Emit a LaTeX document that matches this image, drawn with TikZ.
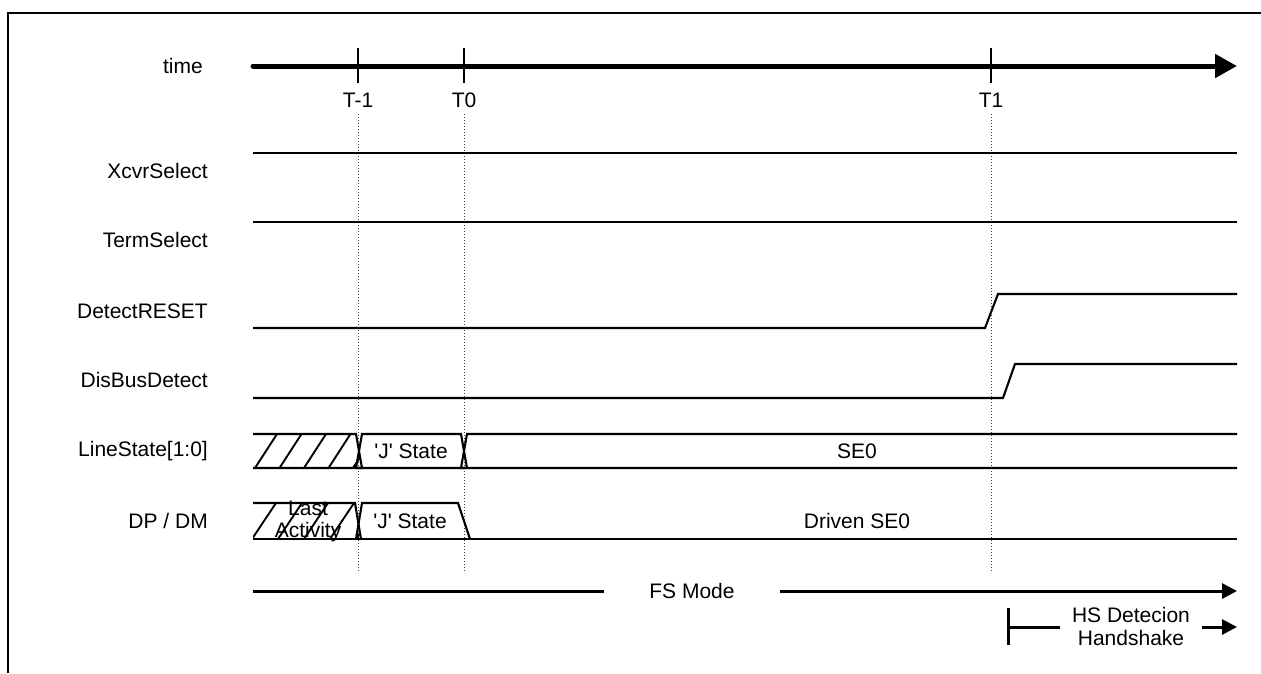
\documentclass[tikz,border=0pt]{standalone}
\usepackage{fontspec}
\setmainfont{Liberation Sans}
\usetikzlibrary{arrows.meta}
\begin{document}
\begin{tikzpicture}[x=1pt,y=-1pt,
  sig/.style={line width=2.1pt, line join=miter},
  lbl/.style={font=\fontsize{21}{24}\selectfont, inner sep=0pt, anchor=east},
  txt/.style={font=\fontsize{21}{23}\selectfont, inner sep=0pt, align=center},
  guide/.style={dash pattern=on 1pt off 2pt, line width=1pt, black!75},
  hatch/.style={line width=1.9pt},
  tick/.style={line width=2pt},
  modearrow/.style={line width=3pt}]
\useasboundingbox (0,0) rectangle (1261,673);
% frame
\draw[line width=1.8pt] (8,673) -- (8,13) -- (1261,13);

% time axis
\node[lbl, anchor=east] (time) at (203,66) {time};
\coordinate (tA) at (253,66);
\coordinate (tB) at (1237,66);
\draw[line width=5pt, line cap=round, -{Triangle[length=22pt,width=23pt]}] (tA) -- (tB);
\foreach \n/\x/\t in {tm1/358/T-1, t0/464/T0, t1/991/T1}{
  \coordinate (\n top) at (\x,48);
  \coordinate (\n bot) at (\x,83);
  \draw[tick] (\n top) -- (\n bot);
  \node[txt] (\n lab) at (\x,100) {\t};
  \coordinate (\n g1) at (\x,114);
  \coordinate (\n g2) at (\x,573);
  \draw[guide] (\n g1) -- (\n g2);
}

% labels
\node[lbl] (xcvr) at (208,171) {XcvrSelect};
\node[lbl] (term) at (208,240) {TermSelect};
\node[lbl] (det)  at (208,311) {DetectRESET};
\node[lbl] (dis)  at (208,380) {DisBusDetect};
\node[lbl] (ls)   at (208,451) {LineState[1:0]};
\node[lbl] (dp)   at (208,521) {DP / DM};

% simple signals
\draw[sig] (253,153) -- (1237,153);
\draw[sig] (253,222) -- (1237,222);
\draw[sig] (253,328) -- (985,328) -- (998,294) -- (1237,294);
\draw[sig] (253,398) -- (1003,398) -- (1015,364) -- (1237,364);

% LineState bus
\begin{scope}
  \clip (253,434) -- (356,434) -- (362,468) -- (253,468) -- cycle;
  \foreach \i in {-1,...,5}{
    \draw[hatch] ({255+24.5*\i},468) -- ({277+24.5*\i},434);
  }
\end{scope}
\draw[sig] (253,434) -- (356,434) -- (362,468) -- (253,468);
\draw[sig] (362,434) -- (461,434) -- (467,468) -- (356,468) -- cycle;
\draw[sig] (1237,434) -- (467,434) -- (461,468) -- (1237,468);
\node[txt] (lsj) at (411,451) {\textquotesingle J\textquotesingle{} State};
\node[txt] (lse0) at (857,451) {SE0};

% DP / DM bus
\begin{scope}
  \clip (253,503) -- (355,503) -- (361,539) -- (253,539) -- cycle;
  \foreach \i in {-1,...,5}{
    \draw[hatch] ({252+26*\i},539) -- ({276+26*\i},503);
  }
\end{scope}
\draw[sig] (253,503) -- (355,503) -- (361,539);
\draw[sig] (253,539) -- (1237,539);
\draw[sig] (356,539) -- (362,503) -- (458,503) -- (470,539);
\node[txt, font=\fontsize{21}{22}\selectfont] (last) at (308,521) {Last\\Activity};
\node[txt] (dpj) at (410,521) {\textquotesingle J\textquotesingle{} State};
\node[txt] (dse0) at (857,521) {Driven SE0};

% FS mode
\node[txt] (fs) at (692,591) {FS Mode};
\coordinate (fsL) at (253,591);
\coordinate (fsA) at (604,591);
\coordinate (fsB) at (780,591);
\coordinate (fsR) at (1237,591);
\draw[modearrow] (fsL) -- (fsA);
\draw[modearrow, -{Triangle[length=15pt,width=15pt]}] (fsB) -- (fsR);

% HS detection handshake
\node[txt] (hs) at (1131,626) {HS Detecion\\Handshake};
\coordinate (hsT) at (1008,608);
\coordinate (hsB) at (1008,645);
\coordinate (hsM) at (1008,627);
\coordinate (hsE) at (1060,627);
\coordinate (hsS) at (1202,627);
\coordinate (hsR) at (1237,627);
\draw[modearrow] (hsT) -- (hsB);
\draw[modearrow] (hsM) -- (hsE);
\draw[modearrow, -{Triangle[length=15pt,width=15pt]}] (hsS) -- (hsR);
\end{tikzpicture}
\end{document}
